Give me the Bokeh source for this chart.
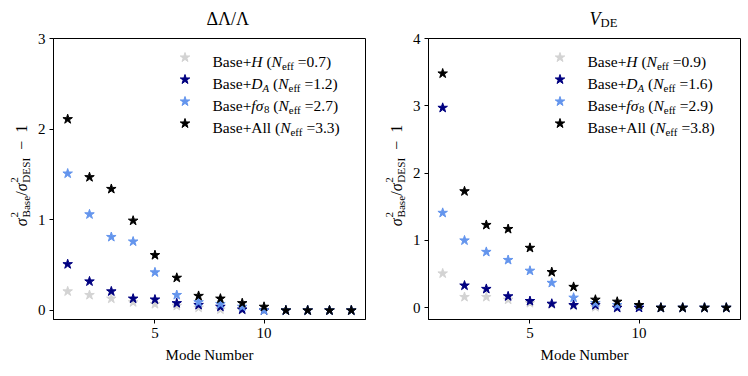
import math
from bokeh.plotting import figure
from bokeh.layouts import row, column
from bokeh.models import Range1d, FixedTicker, Label
from bokeh.embed import file_html
from bokeh.resources import INLINE

# ---------------- data ----------------
modes = [1, 2, 3, 4, 5, 6, 7, 8, 9, 10, 11, 12, 13, 14]

# Delta Lambda / Lambda panel
h_left = [0.21, 0.17, 0.13, 0.09, 0.07, 0.05, 0.03, 0.01, 0.005, 0.0, 0.0, 0.0, 0.0, 0.0]
da_left = [0.51, 0.32, 0.21, 0.13, 0.12, 0.08, 0.06, 0.04, 0.01, 0.0, 0.0, 0.0, 0.0, 0.0]
fs_left = [1.51, 1.06, 0.81, 0.76, 0.42, 0.17, 0.09, 0.07, 0.04, 0.0, 0.0, 0.0, 0.0, 0.0]
all_left = [2.11, 1.47, 1.34, 0.99, 0.61, 0.36, 0.16, 0.13, 0.08, 0.04, 0.0, 0.0, 0.0, 0.0]
neff_left = ["0.7", "1.2", "2.7", "3.3"]

# V_DE panel
h_right = [0.51, 0.16, 0.16, 0.12, 0.07, 0.05, 0.03, 0.01, 0.0, 0.0, 0.0, 0.0, 0.0, 0.0]
da_right = [2.97, 0.33, 0.28, 0.17, 0.10, 0.06, 0.04, 0.04, 0.0, 0.0, 0.0, 0.0, 0.0, 0.0]
fs_right = [1.41, 1.00, 0.83, 0.71, 0.55, 0.37, 0.15, 0.07, 0.04, 0.03, 0.0, 0.0, 0.0, 0.0]
all_right = [3.48, 1.73, 1.23, 1.17, 0.89, 0.53, 0.31, 0.12, 0.09, 0.04, 0.0, 0.0, 0.0, 0.0]
neff_right = ["0.9", "1.6", "2.9", "3.8"]

x_ticks = [5, 10]
y_ticks_left = [0, 1, 2, 3]
y_ticks_right = [0, 1, 2, 3, 4]

colors = ["lightgray", "navy", "cornflowerblue", "black"]

# ---------------- styling helpers ----------------
FONT = "Liberation Serif"
MAIN = 15.0
FW, FH = 312, 281
TOP = 29          # height of title strip
TOPB = 9          # main figure border above the frame
BOTTOM = 51       # space under the frame
YLW = 34          # width of y-label strip
NB = "\u00a0"

W_REG = {' ': 250, NB: 250, '(': 333, ')': 333, '+': 564, '.': 250, '/': 278, '=': 564,
         '\u2212': 564, 'A': 722, 'B': 667, 'D': 722, 'E': 611, 'I': 333,
         'S': 556, 'N': 722, 'a': 444, 'e': 444, 'f': 333, 'l': 278, 's': 389,
         '\u0394': 612, '\u039b': 722}
for d in "0123456789":
    W_REG[d] = 500
W_IT = {'H': 722, 'N': 667, 'D': 722, 'A': 611, 'V': 611, 'f': 278, '\u03c3': 540}


def text_width(s, italic, size):
    tab = W_IT if italic else W_REG
    return sum(tab.get(c, 500) for c in s) * size / 1000.0


def rich(p, bx, by, pieces, angle=0.0, align="left", base=MAIN, sub=0.27):
    """pieces: (text, italic, level, advance). level 0 main, -1 sub, 1 sup."""
    script = base * 0.7
    total = 0.0
    for t, it, lvl, adv in pieces:
        if adv:
            total += text_width(t, it, base if lvl == 0 else script)
    cur = -total / 2 if align == "center" else 0.0
    for t, it, lvl, adv in pieces:
        size = base if lvl == 0 else script
        shift = {0: 0.0, -1: -sub * base, 1: 0.45 * base}[lvl]
        if angle == 0:
            x, y = bx + cur, by + shift
        else:
            x, y = bx - shift, by + cur
        p.add_layout(Label(x=x, y=y, x_units="screen", y_units="screen", text=t,
                           angle=angle, text_font=FONT,
                           text_font_style="italic" if it else "normal",
                           text_font_size=f"{size}px", text_color="black",
                           text_align="left", text_baseline="alphabetic"))
        if adv:
            cur += text_width(t, it, size)


def blank(w, h):
    b = figure(output_backend="svg", toolbar_location=None, title=None,
               x_axis_type=None, y_axis_type=None, frame_width=w, frame_height=h,
               min_border=0, x_range=Range1d(0, 1), y_range=Range1d(0, 1))
    b.outline_line_color = None
    b.grid.visible = False
    return b


def make_panel(series, neffs, yr, yticks, title_pieces, border_left, border_right, ylab_x):
    p = figure(output_backend="svg", toolbar_location=None, title=None,
               frame_width=FW, frame_height=FH,
               min_border_left=border_left, min_border_right=border_right,
               min_border_top=TOPB, min_border_bottom=BOTTOM,
               x_range=Range1d(0.35, 14.65), y_range=Range1d(*yr))
    p.grid.visible = False
    p.outline_line_color = "black"
    p.outline_line_width = 1
    for ax in (p.xaxis[0], p.yaxis[0]):
        ax.axis_line_color = "black"
        ax.major_tick_line_color = "black"
        ax.minor_tick_line_color = None
        ax.major_tick_in = 0
        ax.major_tick_out = 4
        ax.major_label_text_font = FONT
        ax.major_label_text_font_size = "15px"
        ax.major_label_text_color = "black"
        ax.major_label_standoff = 4
    p.xaxis.ticker = FixedTicker(ticks=x_ticks)
    p.yaxis.ticker = FixedTicker(ticks=yticks)
    p.xaxis.axis_label = "Mode Number"
    p.xaxis.axis_label_text_font = FONT
    p.xaxis.axis_label_text_font_style = "normal"
    p.xaxis.axis_label_text_font_size = "15px"
    p.xaxis.axis_label_text_color = "black"
    p.xaxis.axis_label_standoff = 6

    for ys, c in zip(series, colors):
        p.scatter(modes, ys, marker="star", size=10, fill_color=c, line_color=c)

    # legend (markers + composed labels)
    x0, x1 = 0.35, 14.65
    y0, y1 = yr
    row_y = [FH - 19, FH - 41, FH - 63, FH - 85]
    mx = x0 + 131.5 / FW * (x1 - x0)
    my = [y0 + ry / FH * (y1 - y0) for ry in row_y]
    for yy, c in zip(my, colors):
        p.scatter([mx], [yy], marker="star", size=10, fill_color=c, line_color=c)
    labels = [
        [("Base+", False, 0, True), ("H", True, 0, True)],
        [("Base+", False, 0, True), ("D", True, 0, True), ("A", True, -1, True)],
        [("Base+", False, 0, True), ("f\u03c3", True, 0, True), ("8", False, -1, True)],
        [("Base+All", False, 0, True)],
    ]
    for lab, n, ry in zip(labels, neffs, row_y):
        pieces = lab + [(NB + "(", False, 0, True), ("N", True, 0, True),
                        ("eff", False, -1, True), (NB + "=" + n + ")", False, 0, True)]
        rich(p, 159, ry - 4, pieces, base=15.5)

    # title strip
    total_w = border_left + FW + border_right
    t = blank(total_w, TOP)
    rich(t, border_left + FW / 2, TOP - 18.5, title_pieces, align="center",
         base=18.0, sub=0.2)

    # y-label strip
    strip_h = TOP + TOPB + FH + BOTTOM
    yl = blank(YLW, strip_h)
    ylab = [("\u03c3", True, 0, True), ("2", False, 1, False), ("Base", False, -1, True),
            ("/", False, 0, True),
            ("\u03c3", True, 0, True), ("2", False, 1, False), ("DESI", False, -1, True),
            (NB + NB + "\u2212" + NB + NB + "1", False, 0, True)]
    rich(yl, ylab_x, strip_h - 175, ylab, angle=math.pi / 2, align="center", base=16.0)

    return row(yl, column(t, p))


left = make_panel([h_left, da_left, fs_left, all_left], neff_left, (-0.1, 3.0),
                  y_ticks_left, [("\u0394\u039b/\u039b", False, 0, True)], 18, 10, 21)
right = make_panel([h_right, da_right, fs_right, all_right], neff_right, (-0.174, 4.0),
                   y_ticks_right, [("V", True, 0, True), ("DE", False, -1, True)], 19, 6, 21)

layout = row(left, right)
open("out.html", "w").write(file_html(layout, INLINE))
